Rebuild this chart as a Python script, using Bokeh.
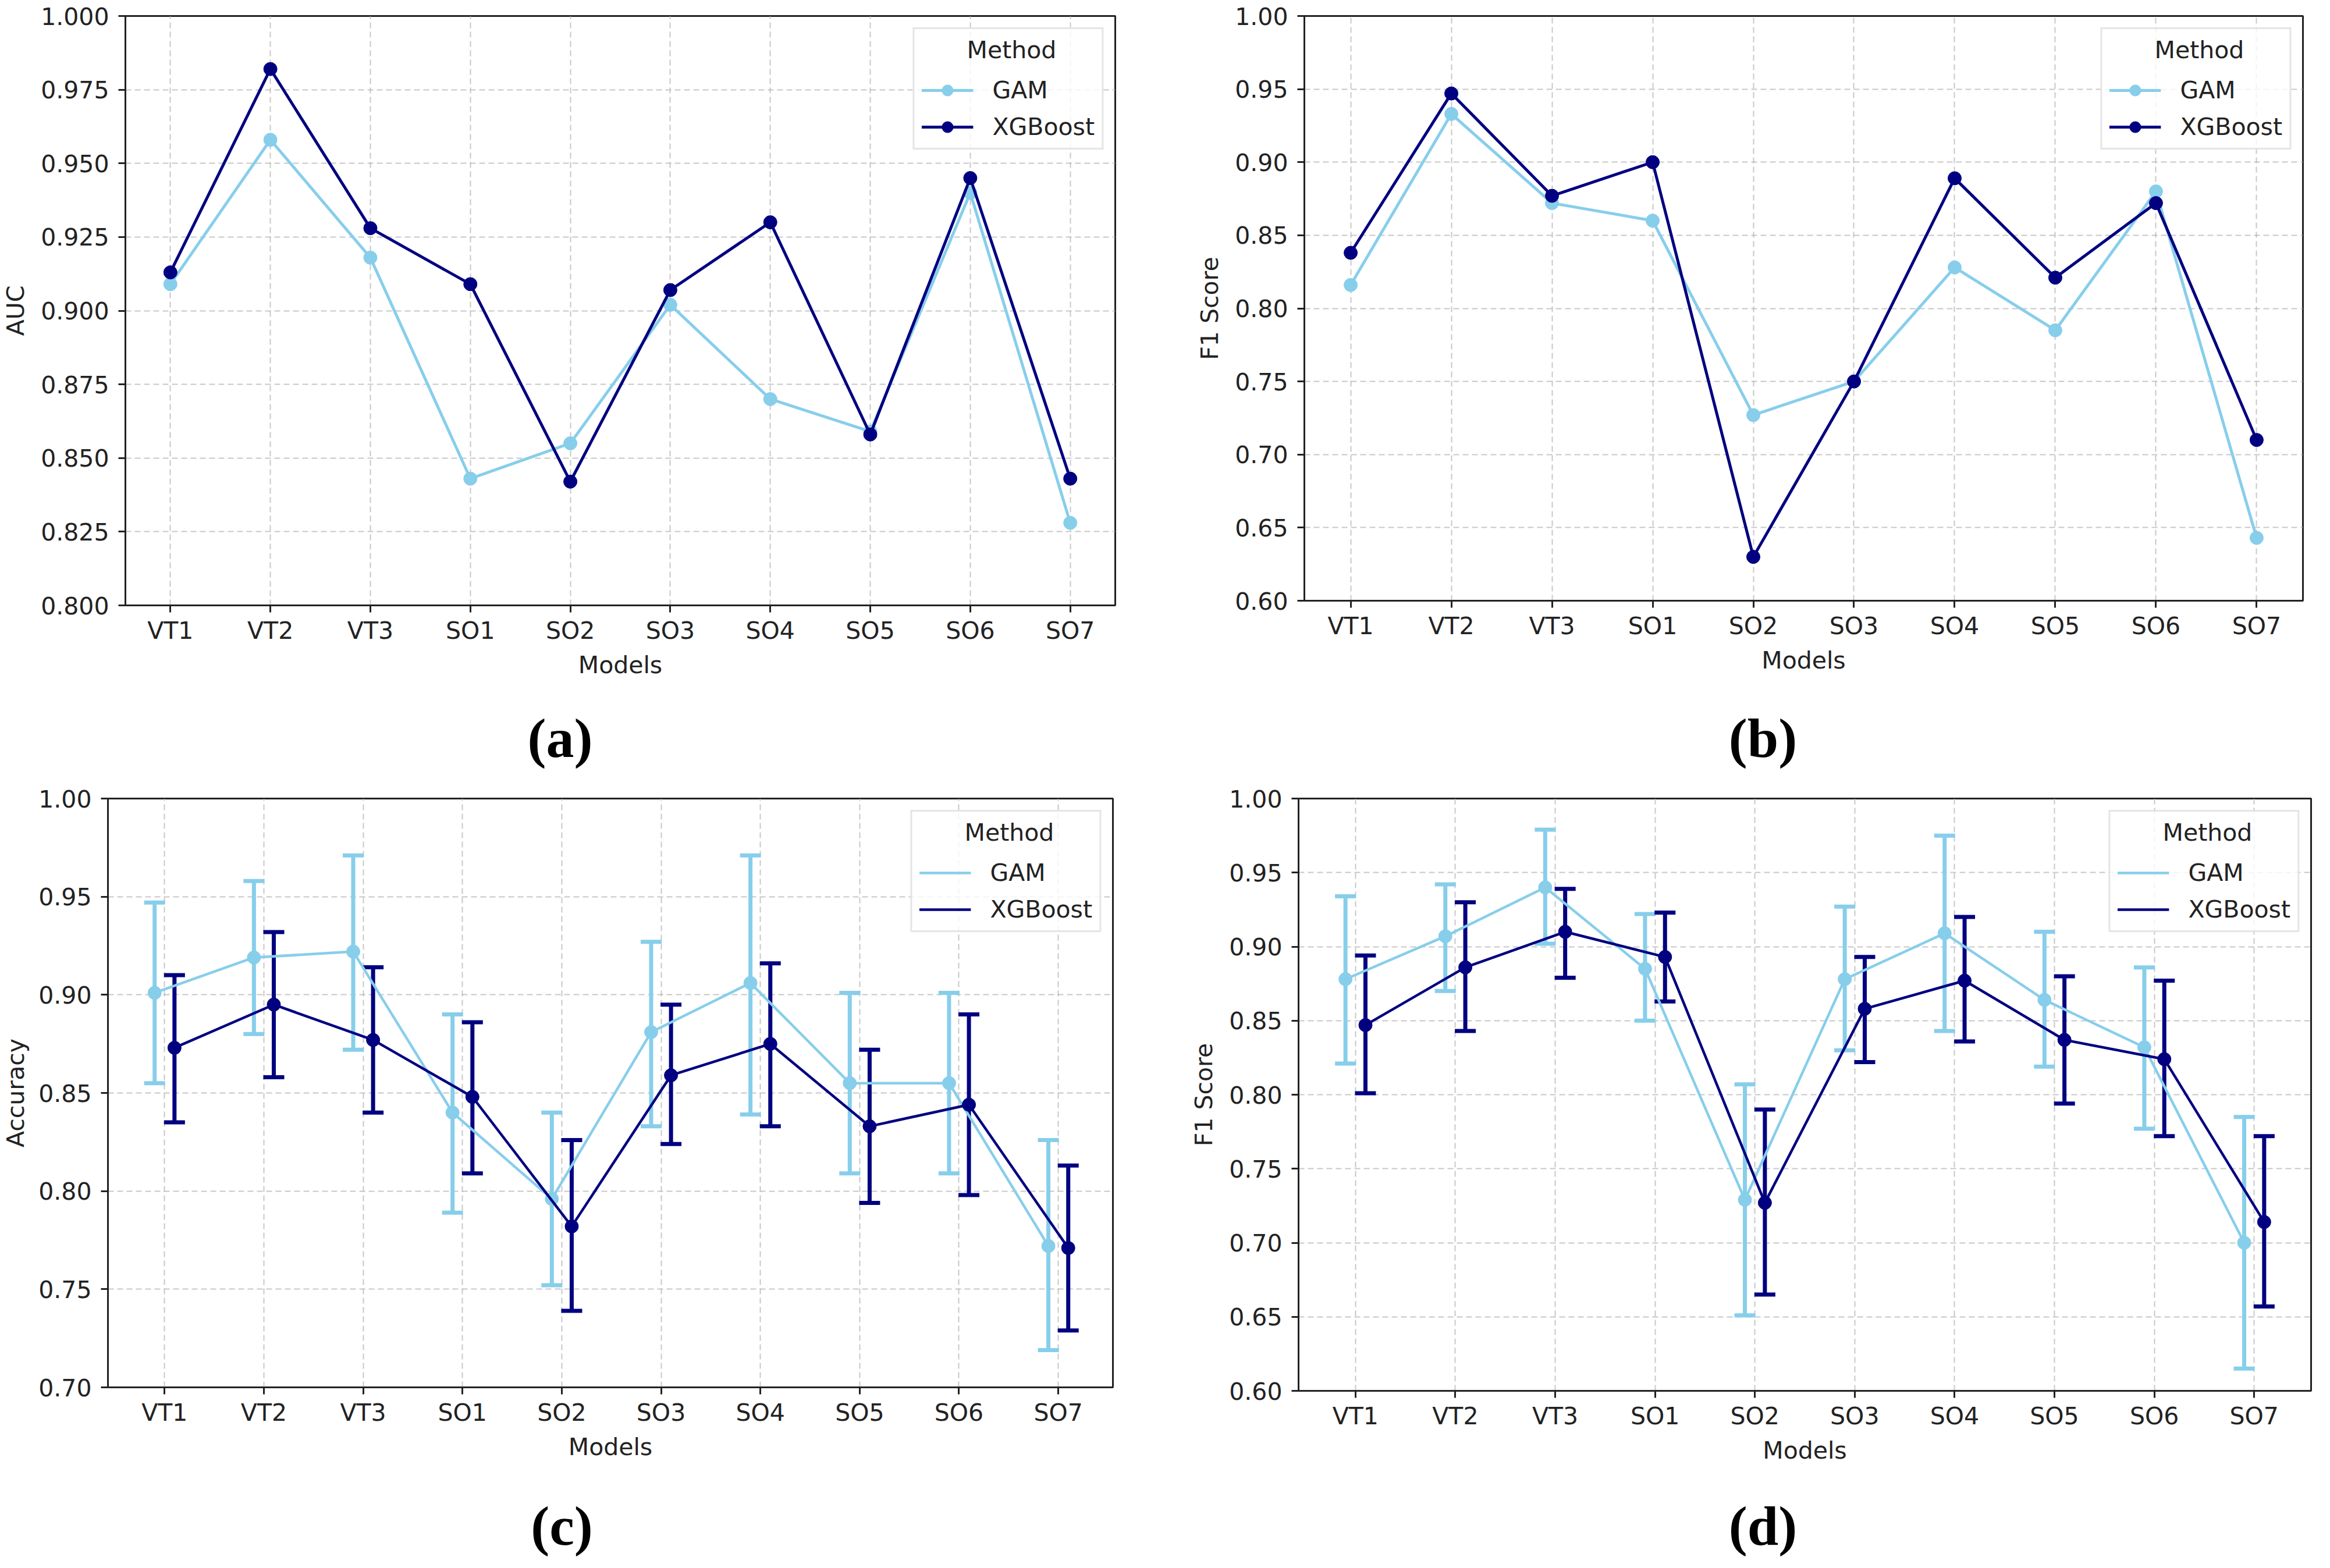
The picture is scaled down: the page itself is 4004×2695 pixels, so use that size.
from bokeh.plotting import figure
from bokeh.models import (FixedTicker, NumeralTickFormatter, Legend, LegendItem,
                          ColumnDataSource, Label, Range1d)
from bokeh.layouts import column, row
from bokeh.embed import file_html
from bokeh.resources import INLINE

# ---------------- data ----------------
models = ["VT1", "VT2", "VT3", "SO1", "SO2", "SO3", "SO4", "SO5", "SO6", "SO7"]
methods = ["GAM", "XGBoost"]

auc_gam = [0.909, 0.958, 0.918, 0.843, 0.855, 0.902, 0.870, 0.859, 0.940, 0.828]
auc_xgb = [0.913, 0.982, 0.928, 0.909, 0.842, 0.907, 0.930, 0.858, 0.945, 0.843]

f1_gam = [0.816, 0.933, 0.872, 0.860, 0.727, 0.750, 0.828, 0.785, 0.880, 0.643]
f1_xgb = [0.838, 0.947, 0.877, 0.900, 0.630, 0.750, 0.889, 0.821, 0.872, 0.710]

acc_gam = [0.901, 0.919, 0.922, 0.840, 0.796, 0.881, 0.906, 0.855, 0.855, 0.772]
acc_gam_lo = [0.855, 0.880, 0.872, 0.789, 0.752, 0.833, 0.839, 0.809, 0.809, 0.719]
acc_gam_hi = [0.947, 0.958, 0.971, 0.890, 0.840, 0.927, 0.971, 0.901, 0.901, 0.826]
acc_xgb = [0.873, 0.895, 0.877, 0.848, 0.782, 0.859, 0.875, 0.833, 0.844, 0.771]
acc_xgb_lo = [0.835, 0.858, 0.840, 0.809, 0.739, 0.824, 0.833, 0.794, 0.798, 0.729]
acc_xgb_hi = [0.910, 0.932, 0.914, 0.886, 0.826, 0.895, 0.916, 0.872, 0.890, 0.813]

f1cv_gam = [0.878, 0.907, 0.940, 0.885, 0.729, 0.878, 0.909, 0.864, 0.832, 0.700]
f1cv_gam_lo = [0.821, 0.870, 0.902, 0.850, 0.651, 0.830, 0.843, 0.819, 0.777, 0.615]
f1cv_gam_hi = [0.934, 0.942, 0.979, 0.922, 0.807, 0.927, 0.975, 0.910, 0.886, 0.785]
f1cv_xgb = [0.847, 0.886, 0.910, 0.893, 0.727, 0.858, 0.877, 0.837, 0.824, 0.714]
f1cv_xgb_lo = [0.801, 0.843, 0.879, 0.863, 0.665, 0.822, 0.836, 0.794, 0.772, 0.657]
f1cv_xgb_hi = [0.894, 0.930, 0.939, 0.923, 0.790, 0.893, 0.920, 0.880, 0.877, 0.772]

auc_ticks = [0.800, 0.825, 0.850, 0.875, 0.900, 0.925, 0.950, 0.975, 1.000]
f1_ticks = [0.60, 0.65, 0.70, 0.75, 0.80, 0.85, 0.90, 0.95, 1.00]
acc_ticks = [0.70, 0.75, 0.80, 0.85, 0.90, 0.95, 1.00]

panel_labels = ["(a)", "(b)", "(c)", "(d)"]
legend_title = "Method"

GAM_C = "#87CEEB"
XGB_C = "#000080"
FONT = "DejaVu Sans"
FS = "41px"
CAP_FS = "96px"
TXT = "#222222"
NBSP = "\u00a0"


def make_panel(fw, fh, bl, br, bt, bb, xr, yticks, fmt, ylabel, series,
               with_markers_in_legend=True, ylab_standoff=16, dodge=0.0):
    p = figure(frame_width=fw, frame_height=fh, min_border_left=bl, min_border_right=br,
               min_border_top=bt, min_border_bottom=bb,
               x_range=Range1d(*xr), y_range=Range1d(yticks[0], yticks[-1]),
               output_backend="svg", toolbar_location=None)
    p.background_fill_color = "white"
    p.border_fill_color = "white"
    p.outline_line_color = TXT
    p.outline_line_width = 3

    idx = list(range(len(models)))
    p.xaxis.ticker = FixedTicker(ticks=idx)
    p.xaxis.major_label_overrides = {i: m for i, m in enumerate(models)}
    p.yaxis.ticker = FixedTicker(ticks=yticks)
    p.yaxis.formatter = NumeralTickFormatter(format=fmt)
    p.xaxis.axis_label = "Models"
    p.yaxis.axis_label = ylabel
    for ax in p.axis:
        ax.major_tick_out = 12
        ax.major_tick_in = 0
        ax.minor_tick_out = 0
        ax.minor_tick_in = 0
        ax.major_tick_line_width = 3
        ax.major_tick_line_color = TXT
        ax.axis_line_width = 3
        ax.axis_line_color = TXT
        ax.major_label_text_font = FONT
        ax.major_label_text_font_size = FS
        ax.major_label_text_color = TXT
        ax.axis_label_text_font = FONT
        ax.axis_label_text_font_size = FS
        ax.axis_label_text_font_style = "normal"
        ax.axis_label_text_color = TXT
    p.xaxis.major_label_standoff = 7
    p.yaxis.major_label_standoff = 16
    p.xaxis.axis_label_standoff = 8
    p.yaxis.axis_label_standoff = ylab_standoff

    for g in (p.xgrid, p.ygrid):
        g.grid_line_color = "#b0b0b0"
        g.grid_line_alpha = 0.7
        g.grid_line_width = 2
        g.grid_line_dash = "10 6"

    items = []
    offsets = [-dodge, dodge]
    # error bars first (underneath lines / markers)
    for k, (name, color, vals, lo, hi) in enumerate(series):
        if lo is None:
            continue
        xs = [i + offsets[k] for i in idx]
        esrc = ColumnDataSource(dict(x=xs, lower=lo, upper=hi))
        p.segment(x0="x", y0="lower", x1="x", y1="upper", source=esrc,
                  line_color=color, line_width=7)
        p.scatter("x", "lower", source=esrc, marker="dash", size=36,
                  line_color=color, line_width=7)
        p.scatter("x", "upper", source=esrc, marker="dash", size=36,
                  line_color=color, line_width=7)
    for k, (name, color, vals, lo, hi) in enumerate(series):
        xs = [i + offsets[k] for i in idx]
        src = ColumnDataSource(dict(x=xs, y=vals))
        ln = p.line("x", "y", source=src, line_color=color, line_width=5 if lo is None else 4.5)
        sc = p.scatter("x", "y", source=src, size=23, fill_color=color, line_color=color)
        items.append(LegendItem(label=name, renderers=[ln, sc] if with_markers_in_legend else [ln]))

    # legend title shifted (non-breaking spaces) so that it sits centred in the box
    leg = Legend(items=items, location="top_right", title=NBSP * 6 + legend_title, margin=20,
                 padding=12, spacing=15, glyph_width=89, glyph_height=48, label_height=48,
                 label_standoff=33, title_standoff=21,
                 label_text_font=FONT, label_text_font_size=FS, label_text_color=TXT,
                 title_text_font=FONT, title_text_font_size=FS, title_text_font_style="normal",
                 title_text_color=TXT,
                 border_line_color="#cccccc", border_line_width=3,
                 background_fill_color="white", background_fill_alpha=0.8)
    p.add_layout(leg)
    return p


def make_caption(text, cx, h):
    p = figure(width=1994, height=h, x_range=Range1d(0, 1), y_range=Range1d(0, 1),
               min_border=0, x_axis_location=None, y_axis_location=None,
               output_backend="svg", toolbar_location=None)
    p.grid.visible = False
    p.outline_line_color = None
    p.background_fill_color = "white"
    p.border_fill_color = "white"
    p.add_layout(Label(x=cx, y=h / 2, x_units="screen", y_units="screen", text=text,
                       text_align="center", text_baseline="middle",
                       text_font="Liberation Serif", text_font_size=CAP_FS,
                       text_font_style="bold", text_color="black"))
    return p


# frames (page px): a L220 T32 B1045, b L2246 T35 B1040, c L191 T1380 B2392, d L2237 T1378 B2396
pa = make_panel(1701, 1013, 212, 81, 24, 153, (-0.45, 9.45), auc_ticks, "0.000", "AUC",
                [(methods[0], GAM_C, auc_gam, None, None), (methods[1], XGB_C, auc_xgb, None, None)])
pb = make_panel(1716, 1005, 244, 34, 27, 158, (-0.46, 9.46), f1_ticks, "0.00", "F1 Score",
                [(methods[0], GAM_C, f1_gam, None, None), (methods[1], XGB_C, f1_xgb, None, None)])
pc = make_panel(1727, 1012, 183, 84, 26, 181, (-0.57, 9.55), acc_ticks, "0.00", "Accuracy",
                [(methods[0], GAM_C, acc_gam, acc_gam_lo, acc_gam_hi),
                 (methods[1], XGB_C, acc_xgb, acc_xgb_lo, acc_xgb_hi)],
                with_markers_in_legend=False, ylab_standoff=12, dodge=0.1)
pd_ = make_panel(1740, 1018, 235, 19, 24, 177, (-0.57, 9.57), f1_ticks, "0.00", "F1 Score",
                 [(methods[0], GAM_C, f1cv_gam, f1cv_gam_lo, f1cv_gam_hi),
                  (methods[1], XGB_C, f1cv_xgb, f1cv_xgb_lo, f1cv_xgb_hi)],
                 with_markers_in_legend=False, dodge=0.1)

ca = make_caption(panel_labels[0], 962, 156)
cb = make_caption(panel_labels[1], 1035, 156)
cc = make_caption(panel_labels[2], 965, 114)
cd = make_caption(panel_labels[3], 1035, 114)

layout = column(row(pa, pb), row(ca, cb), row(pc, pd_), row(cc, cd))

open("out.html", "w").write(file_html(layout, INLINE))
